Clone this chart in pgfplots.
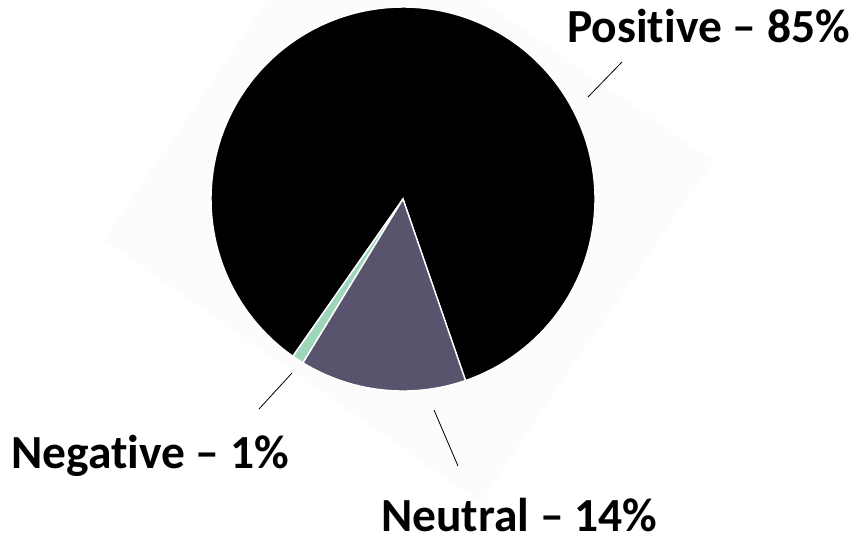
\documentclass[border=0pt]{standalone}
\usepackage{fontspec}
\setmainfont{Carlito}[RawFeature={-liga;-clig;-calt;-dlig}]
\usepackage{pgfplots}
\usepackage{pgfplotstable}
\pgfplotsset{compat=1.18}

\definecolor{posblack}{RGB}{0,0,0}
\definecolor{neutralgrey}{RGB}{88,84,110}
\definecolor{neggreen}{RGB}{158,214,188}
\definecolor{backsq}{RGB}{252,252,252}

% sentiment shares in percent
\pgfplotstableread{
label share
Positive 85
Negative 1
Neutral 14
}\sentiment

\pgfplotstablegetelem{0}{share}\of\sentiment \let\sPos\pgfplotsretval
\pgfplotstablegetelem{1}{share}\of\sentiment \let\sNeg\pgfplotsretval
\pgfplotstablegetelem{2}{share}\of\sentiment \let\sNeu\pgfplotsretval

% slice angles, counter-clockwise from the start
\pgfmathsetmacro\aStart{-71}
\pgfmathsetmacro\aA{\aStart+3.6*\sPos}
\pgfmathsetmacro\aB{\aA+3.6*\sNeg}
\pgfmathsetmacro\aC{\aB+3.6*\sNeu}

\newcommand\lbl{\bfseries\fontsize{47.5}{52}\selectfont}

\begin{document}
\begin{tikzpicture}
\begin{axis}[
    scale only axis,
    width=855pt, height=542pt,
    xmin=0, xmax=855,
    ymin=0, ymax=542,
    y dir=reverse,
    hide axis,
    clip mode=individual,
    ]
    % faint tilted backdrop
    \addplot[fill=backsq, draw=none] coordinates {
        (104,240) (480,502) (713,161) (337,-101) (104,240)
    };
    % slices
    \addplot[fill=posblack, draw=white, line width=1.4pt,
        domain=\aStart:\aA, samples=150, variable=\t]
        ({403+192*cos(t)}, {199-192*sin(t)}) -- (axis cs:403,199) -- cycle;
    \addplot[fill=neggreen, draw=white, line width=1.4pt,
        domain=\aA:\aB, samples=5, variable=\t]
        ({403+192*cos(t)}, {199-192*sin(t)}) -- (axis cs:403,199) -- cycle;
    \addplot[fill=neutralgrey, draw=white, line width=1.4pt,
        domain=\aB:\aC, samples=40, variable=\t]
        ({403+192*cos(t)}, {199-192*sin(t)}) -- (axis cs:403,199) -- cycle;

    % leader lines
    \addplot[black, line width=0.8pt] coordinates {(588,97) (622,62)};
    \addplot[black, line width=0.8pt] coordinates {(259,409) (292,373)};
    \addplot[black, line width=0.8pt] coordinates {(434,410) (458,466)};

    % labels
    \node[anchor=base west, inner sep=0pt] at (axis cs:567,42) {\lbl Positive – 85\%};
    \node[anchor=base west, inner sep=0pt] at (axis cs:11,468) {\lbl Negative – 1\%};
    \node[anchor=base west, inner sep=0pt] at (axis cs:381,531) {\lbl Neutral – 14\%};

    \path[use as bounding box] (axis cs:0,0) rectangle (axis cs:855,542);
\end{axis}
\end{tikzpicture}
\end{document}
